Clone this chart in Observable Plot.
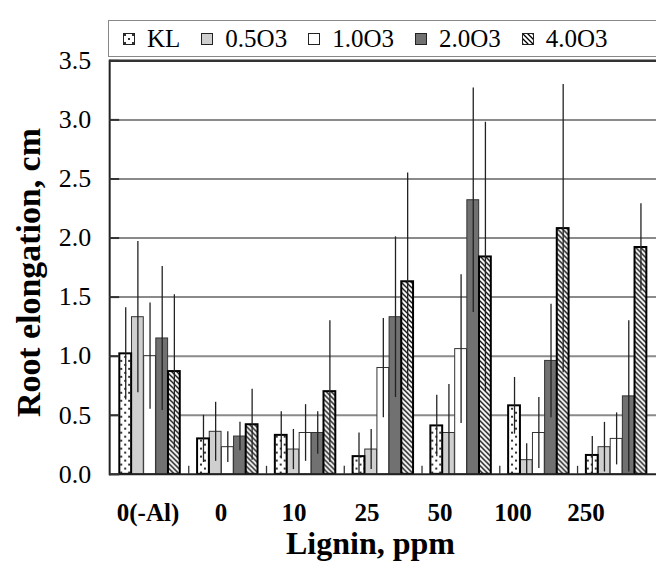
<!DOCTYPE html>
<html>
<head>
<meta charset="utf-8">
<script src="https://cdn.jsdelivr.net/npm/d3@7"></script>
<script src="https://cdn.jsdelivr.net/npm/@observablehq/plot@0.6"></script>
<style>
  html, body { margin: 0; padding: 0; background: #fff; overflow: hidden; }
  #wrap { position: relative; width: 656px; height: 568px; overflow: hidden; color: #000; font-family: "Liberation Serif", serif; }
  #legend { position: absolute; left: 108px; top: 20px; width: 545px; height: 35px; border: 1px solid #888;
    display: flex; align-items: center; padding-left: 14px; box-sizing: content-box; font-size: 25px; }
  .item { display: flex; align-items: center; margin-right: 21px; }
  .item svg { margin-right: 12px; }
</style>
</head>
<body>
<svg width="0" height="0" style="position:absolute">
  <defs>
    <pattern id="dots" width="8" height="8" patternUnits="userSpaceOnUse">
      <rect width="8" height="8" fill="#fff"/>
      <circle cx="2" cy="2" r="1.1" fill="#000"/>
      <circle cx="6" cy="6" r="1.1" fill="#000"/>
    </pattern>
    <pattern id="hatch" width="5" height="5" patternUnits="userSpaceOnUse">
      <rect width="5" height="5" fill="#fff"/>
      <path d="M-1,-1 L6,6 M-1,4 L1,6 M4,-1 L6,1" stroke="#000" stroke-width="1.3"/>
    </pattern>
  </defs>
</svg>
<div id="wrap">
  <div id="legend"></div>
</div>
<script>
// ---- data ----
const groups = ["0(-Al)", "0", "10", "25", "50", "100", "250"];
const series = ["KL", "0.5O3", "1.0O3", "2.0O3", "4.0O3"];
const valKL   = [1.02, 0.30, 0.33, 0.15, 0.41, 0.58, 0.16];
const val05   = [1.33, 0.36, 0.21, 0.21, 0.35, 0.12, 0.23];
const val10   = [1.00, 0.23, 0.35, 0.90, 1.06, 0.35, 0.30];
const val20   = [1.15, 0.32, 0.35, 1.33, 2.32, 0.96, 0.66];
const val40   = [0.87, 0.42, 0.70, 1.63, 1.84, 2.08, 1.92];
const errKL   = [0.39, 0.20, 0.20, 0.20, 0.26, 0.24, 0.16];
const err05   = [0.64, 0.25, 0.17, 0.17, 0.41, 0.14, 0.21];
const err10   = [0.45, 0.13, 0.24, 0.42, 0.63, 0.30, 0.22];
const err20   = [0.61, 0.12, 0.18, 0.68, 0.95, 0.48, 0.64];
const err40   = [0.65, 0.30, 0.60, 0.92, 1.14, 1.22, 0.37];
const yTicks  = [0, 0.5, 1.0, 1.5, 2.0, 2.5, 3.0, 3.5];
const yTitle = "Root elongation, cm";
const xTitle = "Lignin, ppm";

const values = [valKL, val05, val10, val20, val40];
const errors = [errKL, err05, err10, err20, err40];

// styles per series
const styles = [
  {fill: "url(#dots)", stroke: "#000", strokeWidth: 2},
  {fill: "#cfcfcf", stroke: "#333", strokeWidth: 1},
  {fill: "#ffffff", stroke: "#333", strokeWidth: 1},
  {fill: "#717171", stroke: "#333", strokeWidth: 1},
  {fill: "url(#hatch)", stroke: "#000", strokeWidth: 2}
];

const rows = [];
series.forEach((s, j) => groups.forEach((g, i) => rows.push({series: s, j, group: g, value: values[j][i], err: errors[j][i]})));

// ---- layout ----
const W = 658, H = 568, ML = 109.5, MT = 60.5, MB = 92.7;
const B = (W - ML) / groups.length;
const barW = 12.2;
const font = "Liberation Serif";

function barMarks(j) {
  const st = styles[j];
  return Plot.barY(rows.filter(d => d.j === j), {
    x: "group", y: "value",
    fill: st.fill, stroke: st.stroke, strokeWidth: st.strokeWidth,
    insetLeft: (B - barW) / 2, insetRight: (B - barW) / 2,
    dx: (j - 2) * barW
  });
}
function errMarks(j) {
  return Plot.ruleX(rows.filter(d => d.j === j), {
    x: "group", y1: d => Math.max(0, d.value - d.err), y2: d => d.value + d.err,
    stroke: "#222", strokeWidth: 1.3, dx: (j - 2) * barW
  });
}

const thin = [1, 2, 3], thick = [0, 4];

const main = Plot.plot({
  width: W, height: H,
  marginLeft: ML, marginRight: 0, marginTop: MT, marginBottom: MB,
  style: {fontFamily: font, fontSize: "26px", background: "transparent", color: "#000"},
  x: {type: "band", domain: groups, padding: 0, axis: null},
  y: {domain: [0, 3.5], axis: null},
  marks: [
    Plot.gridY(yTicks.slice(1, -1), {stroke: "#8a8a8a", strokeWidth: 2, strokeOpacity: 1}),
    ...thin.map(barMarks),
    ...thick.map(barMarks),
    ...series.map((s, j) => errMarks(j)),
    Plot.ruleY([0], {stroke: "#222", strokeWidth: 2}),
    Plot.ruleY([3.5], {stroke: "#333", strokeWidth: 2.5}),
    Plot.frame({anchor: "left", stroke: "#222", strokeWidth: 2}),
    Plot.axisY(yTicks, {anchor: "left", tickSize: 10, dx: 10, tickPadding: 18.5, stroke: "#333", strokeWidth: 2,
      tickFormat: d3.format(".1f"), fontSize: 26, fill: "#000", label: null}),
    Plot.ruleX(groups.slice(1), {x: d => d, dx: -B / 2, y1: 0, y2: 0.068, stroke: "#333", strokeWidth: 1.3}),
    Plot.text([yTitle], {frameAnchor: "left", dx: -81, dy: 5, rotate: -90, textAnchor: "middle",
      fontSize: 34, fontWeight: "bold", fill: "#000"})
  ]
});
main.style.position = "absolute";
main.style.left = "0px";
main.style.top = "0px";

// x-axis category labels and title (separate strip below the plot)
const xl = Plot.plot({
  width: 656, height: 93,
  marginLeft: 110, marginRight: 34, marginTop: 0, marginBottom: 0,
  style: {fontFamily: font, background: "transparent", color: "#000"},
  x: {type: "band", domain: groups, padding: 0, axis: null},
  marks: [
    Plot.text(groups, {x: d => d, frameAnchor: "top", lineAnchor: "bottom", dy: 45, fontSize: 25, fontWeight: "bold", fill: "#000"}),
    Plot.text([xTitle], {frameAnchor: "top", lineAnchor: "bottom", textAnchor: "middle", dx: 4, dy: 78, fontSize: 32, fontWeight: "bold", fill: "#000"})
  ]
});
xl.style.position = "absolute";
xl.style.left = "0px";
xl.style.top = "475px";

const wrap = document.getElementById("wrap");
wrap.appendChild(main);
wrap.appendChild(xl);

// legend
const legend = document.getElementById("legend");
series.forEach((s, j) => {
  const st = styles[j];
  const item = document.createElement("div");
  item.className = "item";
  item.innerHTML = `<svg width="12" height="12"><rect x="0.5" y="0.5" width="11" height="11" fill="${st.fill}" stroke="#222" stroke-width="1"/></svg><span>${s}</span>`;
  legend.appendChild(item);
});
</script>
</body>
</html>
